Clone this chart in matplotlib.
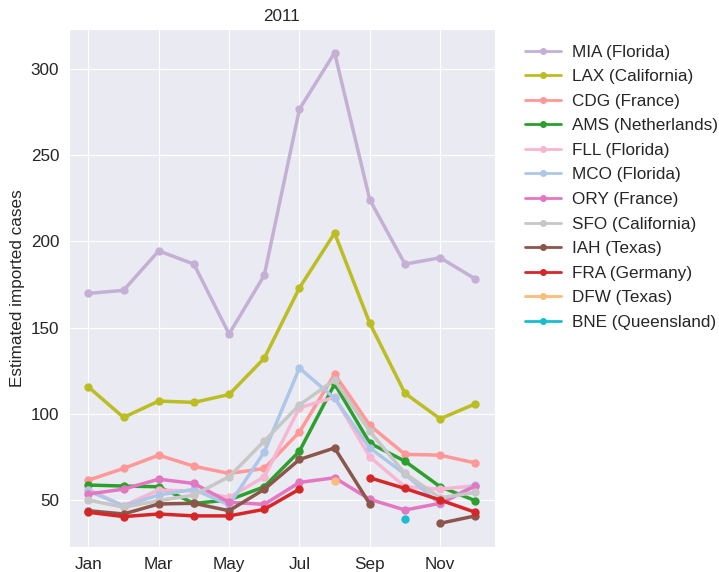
import numpy as np
import matplotlib
matplotlib.use("Agg")
import matplotlib.pyplot as plt
import seaborn as sns

nan = np.nan
months = list(range(1, 13))
tick_months = [1, 3, 5, 7, 9, 11]
tick_labels = ["Jan", "Mar", "May", "Jul", "Sep", "Nov"]

mia = [169.8, 171.6, 194.5, 186.8, 146.3, 180.3, 276.6, 309.4, 224.1, 186.8, 190.5, 178.2]
lax = [115.6, 97.9, 107.4, 106.6, 111.2, 132.2, 173.0, 204.8, 152.5, 111.9, 97.1, 105.8]
cdg = [61.5, 68.3, 76.0, 69.6, 65.4, 68.3, 89.4, 123.0, 93.3, 76.5, 76.0, 71.5]
ams = [58.7, 58.1, 57.7, 48.1, 50.0, 57.7, 78.3, 117.3, 83.0, 72.5, 57.7, 49.6]
fll = [56.0, 46.7, 55.8, 55.2, 51.5, 63.5, 103.5, 109.6, 75.0, 57.7, 56.3, 58.3]
mco = [55.4, 46.5, 52.9, 56.2, 47.1, 77.9, 126.5, 109.0, 80.2, 65.0, 47.5, 59.0]
ory = [53.5, 56.3, 62.1, 59.6, 48.7, 47.5, 60.2, 62.9, 50.4, 44.2, 48.1, 58.1]
sfo = [50.0, 45.8, 49.6, 52.9, 63.5, 84.2, 105.2, 119.6, 89.8, 65.4, 51.3, 54.4]
iah = [43.8, 41.9, 47.7, 48.1, 43.8, 56.2, 73.5, 80.2, 47.7, nan, 36.5, 40.8]
fra = [42.9, 40.4, 41.9, 40.8, 40.8, 44.6, 56.3, nan, 62.9, 56.7, 50.0, 42.9]
dfw = [nan, nan, nan, nan, nan, nan, nan, 61.0, nan, nan, nan, nan]
bne = [nan, nan, nan, nan, nan, nan, nan, nan, nan, 38.8, nan, nan]

series = [
    ("MIA (Florida)", mia, "#c5b0d5"),
    ("LAX (California)", lax, "#bcbd22"),
    ("CDG (France)", cdg, "#ff9896"),
    ("AMS (Netherlands)", ams, "#2ca02c"),
    ("FLL (Florida)", fll, "#f7b6d2"),
    ("MCO (Florida)", mco, "#aec7e8"),
    ("ORY (France)", ory, "#e377c2"),
    ("SFO (California)", sfo, "#c7c7c7"),
    ("IAH (Texas)", iah, "#8c564b"),
    ("FRA (Germany)", fra, "#d62728"),
    ("DFW (Texas)", dfw, "#ffbb78"),
    ("BNE (Queensland)", bne, "#17becf"),
]

sns.set_style("darkgrid")
plt.rcParams['font.family'] = ['Liberation Sans', 'DejaVu Sans']

fs = 12.3
fig = plt.figure(figsize=(7.19, 5.72), dpi=100)
ax = fig.add_axes([0.096, 0.044, 0.592, 0.905])
for name, vals, col in series:
    ax.plot(months, vals, '-o', color=col, label=name, lw=2.5, ms=5)

ax.set_xticks(tick_months)
ax.set_xticklabels(tick_labels)
ax.tick_params(labelsize=fs, colors="#262626")
ax.set_ylabel("Estimated imported cases", fontsize=fs, color="#262626")
ax.set_title("2011", fontsize=fs, color="#262626")
leg = ax.legend(loc="upper left", bbox_to_anchor=(1.035, 1.0), frameon=False, fontsize=fs,
                handlelength=2.1, handletextpad=0.65, labelspacing=0.56, markerscale=0.8)
for h in leg.get_lines():
    h.set_linewidth(2)
fig.savefig("out.png", dpi=100)
plt.close()
